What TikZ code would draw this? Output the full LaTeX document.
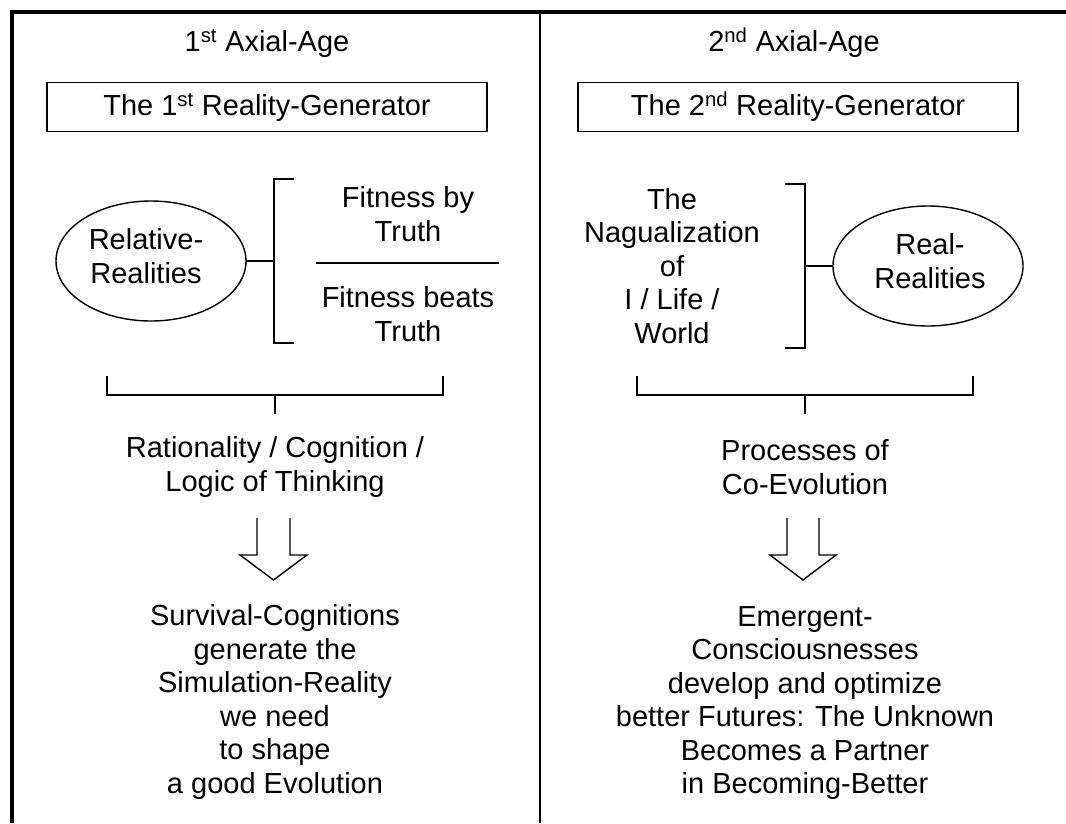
\documentclass[tikz,border=0pt]{standalone}
\usepackage{fontspec}
\setmainfont{Liberation Sans}
\usetikzlibrary{shapes.geometric}
\begin{document}
\begin{tikzpicture}[x=1pt,y=-1pt,
  txt/.style={align=center, font=\fontsize{29}{33.5}\selectfont, inner sep=0pt},
  thinline/.style={line width=1.4pt, line cap=rect},
  border/.style={line width=4.5pt},
  divider/.style={line width=2.5pt},
  genbox/.style={draw, line width=1.4pt, minimum width=440pt, minimum height=49pt, inner sep=0pt, font=\fontsize{29}{33.5}\selectfont},
  oval/.style={draw, ellipse, line width=1.4pt, minimum width=190pt, minimum height=120pt, inner sep=0pt},
  blockarrow/.style={draw, line width=1.4pt, line join=miter, fill=white}]
\useasboundingbox (0,0) rectangle (1066,823);
% frame
\draw[border] (9.75,12) -- (1066,12);
\draw[border] (12,9.75) -- (12,823);
\draw[divider] (540,12) -- (540,823);

% ---------- left column ----------
\node[txt] (age1) at (267,43) {1\textsuperscript{st} Axial-Age};
\node[genbox] (gen1) at (267,107) {The 1\textsuperscript{st} Reality-Generator};
\node[oval] (rel) at (151,261) {};
\node[txt] (reltxt) at (146,256) {Relative-\\Realities};
\node[txt] (fbt) at (408,214) {Fitness by\\Truth};
\node[txt] (fbeats) at (408,314) {Fitness beats\\Truth};
\coordinate (sepL) at (317,263);
\coordinate (sepR) at (498,263);
\draw[thinline] (sepL) -- (sepR);
% bracket
\draw[thinline] (293,179) -- (274,179) -- (274,343) -- (293,343);
\draw[thinline] (rel.east) -- (274,261);
% lower bracket
\draw[thinline] (107,377) -- (107,395) -- (443,395) -- (443,377);
\draw[thinline] (275,395) -- (275,413);
\node[txt] (rat) at (275,467) {Rationality / Cognition /\\Logic of Thinking};
% block arrow
\draw[blockarrow] (257,518) -- (257,555) -- (240,555) -- (273.5,580) -- (307,555) -- (290,555) -- (290,518);
\node[txt] (surv) at (275,702) {Survival-Cognitions\\generate the\\Simulation-Reality\\we need\\to shape\\a good Evolution};

% ---------- right column ----------
\node[txt] (age2) at (794,43) {2\textsuperscript{nd} Axial-Age};
\node[genbox] (gen2) at (798,107) {The 2\textsuperscript{nd} Reality-Generator};
\node[oval] (real) at (928,266) {};
\node[txt] (realtxt) at (930,261) {Real-\\Realities};
\node[txt] (nag) at (672,266) {The\\Nagualization\\of\\I / Life /\\World};
\draw[thinline] (786,184) -- (805,184) -- (805,348) -- (786,348);
\draw[thinline] (805,266) -- (real.west);
\draw[thinline] (637,377) -- (637,395) -- (973,395) -- (973,377);
\draw[thinline] (805,395) -- (805,413);
\node[txt] (proc) at (805,467) {Processes of\\Co-Evolution};
\draw[blockarrow] (787,518) -- (787,555) -- (770,555) -- (803,580) -- (836,555) -- (819,555) -- (819,518);
\node[txt] (emerg) at (805,703) {Emergent-\\Consciousnesses\\develop and optimize\\better Futures: The Unknown\\Becomes a Partner\\in Becoming-Better};
\end{tikzpicture}
\end{document}
